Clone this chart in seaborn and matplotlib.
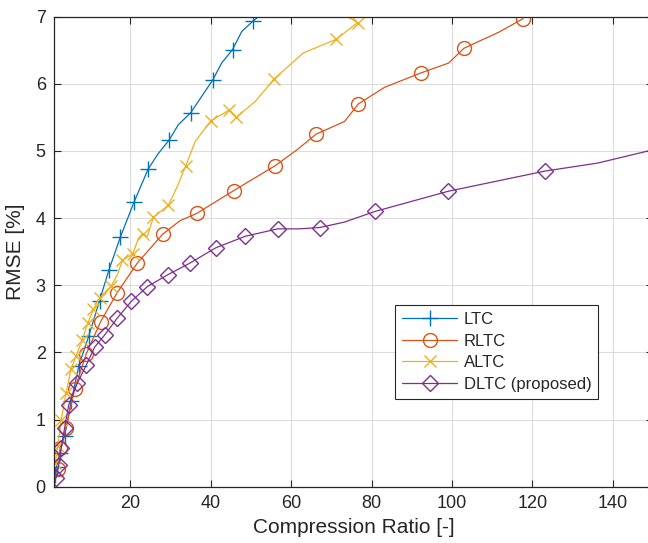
import matplotlib
matplotlib.use("Agg")
import matplotlib.pyplot as plt
import seaborn as sns
import pandas as pd

# ---- data ----
ltc_x = [1.2, 1.6, 2.4, 3.6, 5.25, 7.15, 9.65, 12.3, 14.6, 17.5, 20.9, 24.4, 26.9, 29.6, 31.9,
         35.0, 40.5, 42.7, 45.4, 47.7, 50.6, 52.3]
ltc_y = [0.18, 0.30, 0.50, 0.76, 1.27, 1.80, 2.25, 2.77, 3.22, 3.72, 4.24, 4.73, 4.96, 5.16, 5.39,
         5.57, 6.06, 6.31, 6.51, 6.78, 6.94, 7.02]
ltc_mk = [0, 1, 2, 3, 4, 5, 6, 7, 8, 9, 10, 11, 13, 15, 16, 18, 20]

rltc_x = [1.9, 2.5, 4.0, 6.1, 9.0, 12.6, 16.7, 21.7, 28.0, 32.3, 36.5, 45.7, 56.0, 61.5, 66.2,
          73.3, 76.7, 83.3, 92.2, 99.2, 103.0, 111.7, 117.7]
rltc_y = [0.27, 0.58, 0.88, 1.45, 1.98, 2.46, 2.89, 3.33, 3.76, 3.96, 4.07, 4.41, 4.78, 5.02, 5.25,
          5.44, 5.70, 5.95, 6.16, 6.31, 6.53, 6.77, 6.97]
rltc_mk = [0, 1, 2, 3, 4, 5, 6, 7, 8, 10, 11, 12, 14, 16, 18, 20, 22]

altc_x = [1.3, 1.9, 2.75, 4.0, 5.25, 6.5, 8.0, 9.4, 10.8, 12.3, 15.2, 16.7, 18.0, 20.6, 22.0,
          23.0, 24.2, 25.7, 29.4, 31.5, 33.7, 36.1, 40.0, 44.6, 46.3, 51.1, 55.7, 63.0, 71.1,
          76.5, 73.2]
altc_y = [0.35, 0.60, 0.99, 1.40, 1.76, 1.95, 2.19, 2.44, 2.64, 2.81, 2.99, 3.15, 3.37, 3.47, 3.70,
          3.77, 3.73, 4.01, 4.19, 4.45, 4.77, 5.14, 5.45, 5.61, 5.50, 5.74, 6.07, 6.46, 6.66,
          6.91, 7.03]
altc_mk = [0, 1, 2, 3, 4, 5, 6, 7, 8, 9, 10, 12, 13, 15, 17, 18, 20, 22, 23, 24, 26, 28, 29]

dltc_x = [1.5, 2.15, 2.75, 3.6, 4.65, 6.75, 9.0, 11.1, 13.6, 16.7, 20.2, 24.2, 29.4, 34.8, 41.3,
          48.6, 56.6, 62.0, 67.1, 73.2, 80.9, 99.1, 123.1, 136.3, 149.5]
dltc_y = [0.13, 0.32, 0.57, 0.87, 1.22, 1.54, 1.81, 2.08, 2.26, 2.51, 2.76, 2.98, 3.16, 3.33, 3.56,
          3.73, 3.84, 3.84, 3.86, 3.94, 4.10, 4.40, 4.70, 4.82, 5.01]
dltc_mk = [0, 1, 2, 3, 4, 5, 6, 7, 8, 9, 10, 11, 12, 13, 14, 15, 16, 18, 20, 21, 22]

labels = ["LTC", "RLTC", "ALTC", "DLTC (proposed)"]
x_ticks = [20, 40, 60, 80, 100, 120, 140]
y_ticks = [0, 1, 2, 3, 4, 5, 6, 7]

# ---- style ----
sns.set_theme(style="whitegrid")
plt.rcParams["font.family"] = ["Liberation Sans", "DejaVu Sans"]

colors = ["#0072BD", "#D95319", "#EDB120", "#7E2F8E"]
markers = ["+", "o", "x", "D"]
msizes = [11, 10, 8, 8]

fig = plt.figure(figsize=(6.48, 5.43), dpi=100)
ax = fig.add_axes([0.0835, 0.1037, 0.924, 0.8656])

series = [(ltc_x, ltc_y, ltc_mk), (rltc_x, rltc_y, rltc_mk),
          (altc_x, altc_y, altc_mk), (dltc_x, dltc_y, dltc_mk)]
for (xs, ys, mk), lab, c, m, ms in zip(series, labels, colors, markers, msizes):
    df = pd.DataFrame({"x": xs, "y": ys})
    sns.lineplot(data=df, x="x", y="y", ax=ax, sort=False, estimator=None,
                 color=c, marker=m, markevery=mk, markersize=ms,
                 markerfacecolor="none" if m in ("o", "D") else c,
                 markeredgecolor=c, markeredgewidth=1.0, linewidth=0.9,
                 label=lab, clip_on=True)

ax.set_xlim(1, 150)
ax.set_ylim(0, 7)
ax.set_xticks(x_ticks)
ax.set_yticks(y_ticks)
ax.set_facecolor("white")
ax.grid(True, color="#dcdcdc", linewidth=0.8)
for s in ax.spines.values():
    s.set_color("#262626")
    s.set_linewidth(0.9)
    s.set_visible(True)
ax.tick_params(axis="both", which="both", direction="in", length=5, width=0.8,
               color="#262626", labelsize=13, labelcolor="#262626",
               top=True, right=True, bottom=True, left=True, pad=6)
ax.set_xlabel("Compression Ratio [-]", fontsize=15, color="#262626", labelpad=4)
ax.set_ylabel("RMSE [%]", fontsize=15, color="#262626", labelpad=8)

leg = ax.legend(loc="upper left", bbox_to_anchor=(0.57, 0.386), borderaxespad=0,
                fontsize=12, frameon=True, fancybox=False, handlelength=3.3,
                handletextpad=0.4, labelspacing=0.4, borderpad=0.4)
leg.get_frame().set_edgecolor("#262626")
leg.get_frame().set_linewidth(0.8)
leg.get_frame().set_facecolor("white")
leg.get_frame().set_alpha(1)
for t in leg.get_texts():
    t.set_color("#262626")

fig.savefig("out.png", dpi=100)
